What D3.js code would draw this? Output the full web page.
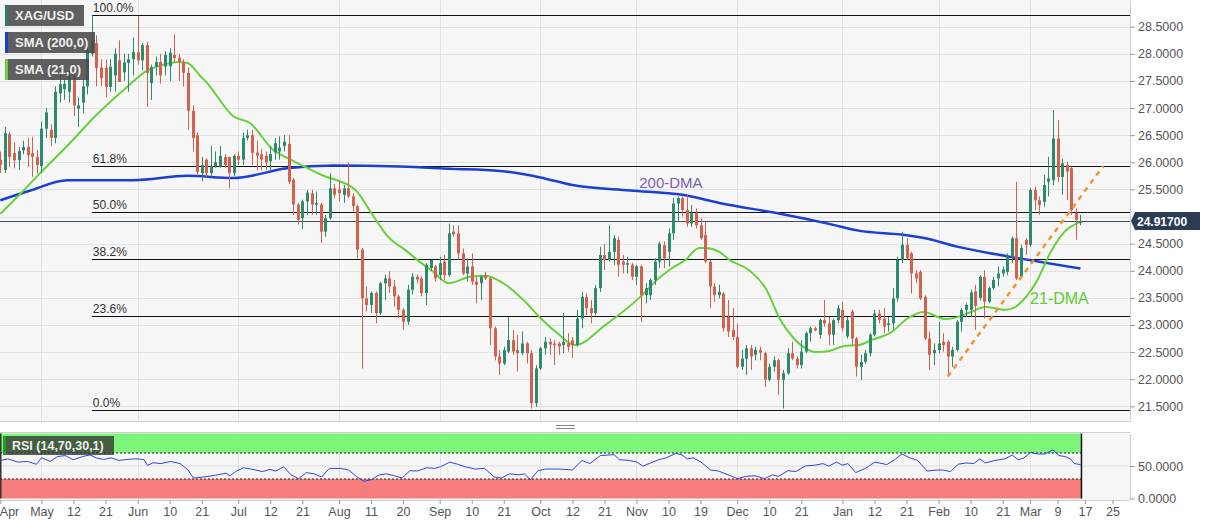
<!DOCTYPE html>
<html lang="en">
<head>
<meta charset="UTF-8">
<title>XAG/USD daily</title>
<script src="https://d3js.org/d3.v7.min.js"></script>
<style>
  body { margin: 0; background: #fff; }
  svg { display: block; font-family: "Liberation Sans", Arial, sans-serif; }
</style>
</head>
<body>
<script>
var width = 1207, height = 526;
var plotRight = 1130;
var mainBottom = 421, rsiTop = 432, rsiBottom = 500;

// daily candles, one per trading day
var opens = [
 26.05,25.86,26.52,26.17,26.04,26.22,26.28,26.17,26.10,25.93,
 26.62,26.60,26.45,27.27,27.35,27.30,27.60,26.99,27.10,27.40,
 28.00,28.20,27.75,27.74,27.39,27.60,27.88,27.66,27.83,27.90,
 28.03,27.88,28.16,27.46,27.76,27.85,27.76,27.77,27.98,27.93,
 27.85,27.65,26.95,26.50,25.80,26.05,25.80,25.93,25.92,26.10,
 26.10,25.80,26.12,26.05,26.45,26.50,26.18,26.15,26.12,26.02,
 26.18,26.20,26.30,26.34,25.68,25.22,24.97,25.28,25.43,25.22,
 25.22,24.72,24.97,25.52,25.50,25.40,25.52,25.37,25.19,24.39,
 23.49,23.37,23.59,23.22,23.77,23.86,23.71,23.53,23.28,23.06,
 23.65,23.89,23.86,23.59,24.05,24.08,23.92,24.17,23.92,24.72,
 24.69,24.32,23.95,24.08,23.80,23.77,23.92,23.86,22.94,22.42,
 22.29,22.51,22.72,22.54,22.48,22.66,22.48,21.56,22.20,22.57,
 22.69,22.66,22.66,22.63,22.66,22.72,22.63,23.12,23.52,23.31,
 23.22,23.68,24.29,24.20,24.35,24.57,24.17,24.11,24.11,23.89,
 24.08,23.55,23.55,23.83,24.17,24.47,24.35,24.69,25.24,25.34,
 25.12,24.87,25.06,24.84,24.66,24.17,23.71,23.55,23.58,23.15,
 22.91,22.78,22.23,22.38,22.57,22.45,22.54,22.48,21.99,22.23,
 22.35,21.99,22.11,22.48,22.38,22.26,22.51,22.85,22.94,22.82,
 23.09,23.03,22.82,23.09,23.28,22.79,23.25,22.75,22.23,22.32,
 22.48,22.82,23.21,23.12,23.00,23.03,23.49,24.20,24.48,24.32,
 23.95,23.98,23.52,22.75,22.48,22.54,22.69,22.69,22.42,22.54,
 23.06,23.28,23.28,23.62,23.50,23.89,23.43,23.68,23.86,23.95,
 23.98,24.26,24.60,23.89,24.57,24.48,25.49,25.30,25.27,25.64,
 25.67,26.44,25.73,25.95,25.89,25.06,24.88];
var highs = [
 26.20,26.65,26.56,26.37,26.28,26.40,26.45,26.47,26.23,26.75,
 27.00,26.70,27.40,27.65,27.55,27.70,27.70,27.20,27.55,28.30,
 28.72,28.34,27.90,27.90,27.90,28.10,28.25,28.00,28.00,28.30,
 28.70,28.20,28.22,27.80,27.95,28.00,28.05,28.10,28.36,28.00,
 27.90,27.75,27.05,26.55,26.10,26.07,26.30,26.20,26.30,26.15,
 26.10,26.15,26.20,26.55,26.60,26.60,26.40,26.25,26.20,26.30,
 26.45,26.48,26.50,26.50,25.71,25.25,25.31,25.49,25.49,25.46,
 25.25,25.03,25.80,25.60,25.65,25.58,26.00,25.43,25.22,24.42,
 23.71,23.62,23.62,23.80,23.93,23.99,23.83,23.56,23.31,23.74,
 23.96,23.93,23.90,24.14,24.20,24.11,24.26,24.29,24.87,24.84,
 24.84,24.41,24.23,24.32,23.89,23.92,23.98,23.89,22.97,22.54,
 22.60,23.15,22.91,22.82,22.88,22.69,22.54,22.26,22.60,22.78,
 22.75,22.72,22.69,23.22,22.85,22.78,23.28,23.61,23.58,23.46,
 23.74,24.44,24.50,24.84,24.66,24.63,24.29,24.26,24.14,24.11,
 24.11,23.77,23.86,24.23,24.54,24.54,24.78,25.34,25.37,25.37,
 25.40,25.21,25.15,24.97,24.91,24.20,23.77,23.74,23.61,23.46,
 23.31,23.03,22.54,22.63,22.63,22.60,22.60,22.51,22.29,22.42,
 22.38,22.17,22.57,22.69,22.42,22.72,22.88,22.97,22.97,23.12,
 23.46,23.15,23.12,23.37,23.43,23.15,23.28,22.78,22.45,22.54,
 22.85,23.28,23.28,23.31,23.15,23.68,24.26,24.72,24.60,24.35,
 24.01,24.01,23.55,22.88,22.66,23.06,22.85,22.72,22.60,23.09,
 23.31,23.40,23.65,23.74,23.92,24.01,23.71,23.89,24.08,24.08,
 24.32,24.63,25.64,24.48,24.60,25.52,25.55,25.37,25.77,26.10,
 26.96,26.78,26.07,26.01,25.92,25.15,25.03];
var lows = [
 25.80,25.80,25.91,25.89,25.86,26.15,25.91,25.73,25.79,25.80,
 26.45,26.30,26.35,27.10,27.15,27.10,26.85,26.65,26.90,27.25,
 27.95,27.40,27.40,27.20,27.30,27.30,27.48,27.50,27.30,27.60,
 27.80,27.70,27.02,27.15,27.60,27.45,27.60,27.50,27.85,27.50,
 27.40,26.60,26.20,25.75,25.65,25.73,25.73,25.90,25.90,25.90,
 25.52,25.75,25.95,25.95,26.40,25.95,25.85,25.85,25.85,25.85,
 26.05,26.05,26.20,25.60,25.03,24.85,24.77,25.03,25.03,25.03,
 24.51,24.63,24.94,25.34,25.28,25.25,25.34,25.09,24.23,22.20,
 23.25,23.22,23.03,23.19,23.46,23.59,23.34,23.13,22.91,23.00,
 23.56,23.77,23.53,23.37,24.00,23.80,23.83,23.83,23.89,24.63,
 24.20,23.92,23.80,23.74,23.40,23.46,23.83,22.63,22.35,22.08,
 22.26,22.48,22.45,22.14,22.45,22.29,21.46,21.49,22.17,22.45,
 22.45,22.26,22.45,22.48,22.51,22.39,22.60,22.94,23.18,23.03,
 23.18,23.61,24.01,24.17,24.11,23.89,23.95,23.95,23.83,23.74,
 23.06,23.40,23.46,23.74,24.05,24.05,24.08,24.57,24.90,25.00,
 24.81,24.81,24.78,24.57,24.14,23.31,23.43,23.49,22.88,22.78,
 22.72,22.20,22.17,22.08,22.17,22.35,22.35,21.86,21.96,22.14,
 21.71,21.46,22.08,22.35,22.20,22.20,22.48,22.69,22.88,22.75,
 22.97,22.63,22.63,23.03,22.88,22.75,22.63,22.05,21.99,22.29,
 22.42,22.79,23.03,22.85,22.88,22.91,23.43,24.14,24.20,23.58,
 23.77,23.46,22.72,22.17,22.26,22.48,22.51,22.05,22.23,22.51,
 22.88,23.15,23.15,22.91,23.45,23.12,23.40,23.65,23.71,23.89,
 23.92,24.14,23.83,23.86,24.29,24.44,25.12,25.03,25.18,25.37,
 25.58,25.64,25.40,25.30,25.03,24.57,24.84];
var closes = [
 25.95,26.54,26.10,26.04,26.21,26.28,26.13,26.10,25.95,26.62,
 26.92,26.45,27.30,27.44,27.45,27.60,27.05,27.05,27.40,28.07,
 28.25,27.74,27.55,27.39,27.76,28.00,27.48,27.84,27.90,28.03,
 27.88,28.16,27.65,27.76,27.85,27.60,27.98,28.02,27.92,27.85,
 27.65,26.95,26.45,25.82,25.95,25.80,25.93,26.00,26.12,25.95,
 25.80,26.12,26.05,26.45,26.50,26.17,26.12,26.05,26.00,26.15,
 26.35,26.27,26.38,25.64,25.22,24.94,25.28,25.44,25.22,25.25,
 24.72,24.97,25.52,25.40,25.43,25.52,25.37,25.19,24.39,23.49,
 23.37,23.59,23.22,23.77,23.86,23.71,23.53,23.28,23.06,23.65,
 23.89,23.84,23.59,24.11,24.20,23.86,24.14,23.92,24.69,24.67,
 24.32,23.95,24.08,23.80,23.74,23.89,23.86,22.94,22.42,22.29,
 22.54,22.72,22.51,22.48,22.66,22.48,21.56,22.20,22.57,22.69,
 22.64,22.63,22.60,22.69,22.60,22.63,23.12,23.52,23.31,23.22,
 23.68,24.29,24.20,24.35,24.60,24.11,24.11,24.14,23.89,24.08,
 23.55,23.68,23.83,24.17,24.50,24.23,24.69,25.24,25.34,25.12,
 24.87,25.06,24.84,24.60,24.17,23.71,23.55,23.61,22.94,22.88,
 22.78,22.23,22.38,22.57,22.42,22.54,22.49,21.99,22.23,22.35,
 21.99,22.11,22.48,22.38,22.26,22.51,22.85,22.94,22.90,23.09,
 23.03,22.82,23.09,23.31,22.94,23.09,22.75,22.23,22.32,22.48,
 22.82,23.21,23.09,22.97,23.03,23.49,24.20,24.48,24.23,23.95,
 23.86,23.49,22.75,22.45,22.54,22.66,22.63,22.42,22.54,23.06,
 23.28,23.37,23.60,23.35,23.89,23.43,23.68,23.83,23.95,24.02,
 24.26,24.60,23.86,24.42,24.48,25.49,25.30,25.21,25.58,25.70,
 26.44,25.73,25.98,25.83,25.12,24.94,24.917];

// moving averages (candle index, value)
var sma200Idx = [0,6.6,14.6,29.1,40.9,50.9,62.7,72.8,87.4,98.3,109.2,118,125,137.6,149,157.1,170.4,181.3,187.5,197.7,202.1,209.3,218.5,236];
var sma200Val = [25.30,25.48,25.67,25.67,25.75,25.71,25.89,25.94,25.92,25.88,25.84,25.72,25.58,25.48,25.40,25.25,25.05,24.86,24.74,24.66,24.60,24.44,24.29,24.04];
var sma21Idx = [0,4.4,8.7,14.6,21.2,27.7,31.9,36.1,38.9,40.9,43.7,45.2,50.9,54.6,59.6,62.7,70.1,77.6,81.1,84.8,88.5,92.0,94.6,97.9,102.7,106.0,109.9,114.3,118.0,121.7,125.6,132.2,139.6,144.0,146.8,149.7,152.7,154.0,157.1,159.3,163.6,167.4,170.2,173.3,176.1,178.3,181.1,184.2,187.5,190.3,194.7,198.4,201.7,206.5,209.3,212.1,215.2,217.4,219.4,221.3,223.5,226.6,229.4,232.3,236];
var sma21Val = [25.05,25.42,25.80,26.30,26.89,27.39,27.68,27.81,27.85,27.83,27.59,27.46,26.85,26.72,26.23,26.08,25.77,25.49,25.06,24.62,24.38,24.14,23.98,23.77,23.89,23.91,23.77,23.46,23.13,22.85,22.63,23.00,23.50,23.87,24.05,24.20,24.42,24.42,24.35,24.20,24.01,23.65,23.13,22.76,22.56,22.50,22.52,22.61,22.63,22.72,22.87,23.13,23.24,23.11,23.15,23.24,23.33,23.31,23.28,23.31,23.46,23.83,24.33,24.70,24.90];

// RSI(14) (candle index, value)
var rsiIdx = [0,1.7,3.8,5.9,7.9,9.0,10.9,12.5,14.2,15.9,18.0,19.6,20.9,22.6,24.2,25.9,28.4,30.1,31.4,32.2,33.4,35.1,37.2,39.3,41.0,42.2,44.3,46.8,49.3,50.2,51.4,53.1,55.2,57.3,58.9,60.2,61.9,63.5,65.2,66.9,68.6,70.2,71.9,74.4,76.1,77.8,79.4,81.1,82.8,84.4,86.1,87.8,89.5,91.1,93.2,94.9,96.2,98.2,99.9,101.6,103.7,105.8,107.9,109.5,111.2,113.3,114.5,115.8,117.5,119.1,122.1,125.0,127.1,128.8,131.1,134.1,135.3,137.4,139.1,140.4,142.1,143.8,145.5,147.6,148.9,150.1,151.4,153.1,155.2,156.9,159.0,161.1,162.8,164.9,167.0,168.7,170.0,172.1,173.8,175.9,178.0,179.7,181.0,182.7,184.0,185.2,186.9,189.0,191.1,193.7,195.4,197.0,198.7,200.4,202.5,204.7,205.9,207.6,209.3,211.0,212.7,214.0,215.2,217.3,219.5,221.1,222.4,223.7,225.1,226.6,228.3,230.0,231.3,232.6,233.8,234.7,236.0];
var rsiVal = [58.6,61,56,57,52.7,62.6,57,64.6,66,59.6,64.6,67,62.6,60,62.6,58.6,60.6,61,59.6,51,55,53.7,57,53.7,43.8,31.5,33,35.4,38.9,35,41.4,47.3,44.8,41.4,44.8,42.3,48.8,36.4,30.5,39.9,37.9,33,46.3,46.3,43.8,34,26.5,29,36.4,37.9,35,31.5,42.8,42.3,47.3,46.3,48.8,56,52.7,48.8,45.3,46.3,33,31.5,37.9,36.4,37.9,29,42.8,45.3,45.3,43.8,58.6,53.7,66,67.5,59.6,58.6,56,49.8,54.7,59.6,62.6,69.5,67,61,62.6,56,43.8,42.3,36.4,30.5,34,35,30.5,36.4,34,42.8,41.4,50.2,51.2,53.7,49.8,56,51.2,53.7,39.9,46.3,56,52.2,59.6,68.5,62.6,58.6,42.3,43.8,43.8,41.4,52.7,54.7,53.7,61,54.7,58.6,61,67,59.6,62.6,71,68.5,68.5,75,66,64.6,61,53.7,52.2];

// Fibonacci retracement from the May high to the September low
var fibHigh = 28.72, fibLow = 21.44, fibStartIdx = 20;
var fibRatios = [1, 0.618, 0.5, 0.382, 0.236, 0];
var fibLabels = ["100.0%", "61.8%", "50.0%", "38.2%", "23.6%", "0.0%"];

// ascending support line
var trendIdx = [207, 241];
var trendVal = [22.05, 25.93];

var lastPrice = 24.917;
var priceTicks = [21.5, 22, 22.5, 23, 23.5, 24, 24.5, 25, 25.5, 26, 26.5, 27, 27.5, 28, 28.5];
var rsiTicks = [0, 50];
var tickIdx = [0, 9, 16, 23, 30, 37, 44, 52, 59, 66, 74, 81, 88, 96, 103, 110, 118, 125, 132, 139, 146, 153, 161, 168, 175, 184, 191, 198, 205, 212, 219, 225, 231, 237, 243];
var tickLabels = ["Apr", "May", "12", "21", "Jun", "10", "21", "Jul", "12", "21", "Aug", "11", "20", "Sep", "10", "21", "Oct", "12", "21", "Nov", "10", "19", "Dec", "10", "21", "Jan", "12", "21", "Feb", "10", "21", "Mar", "9", "17", "25"];
var monthIdx = [9, 30, 52, 74, 96, 118, 139, 161, 184, 205, 225];

var upColor = "#2c8a6d", downColor = "#d4614b";

var svg = d3.select("body").append("svg")
    .attr("width", width)
    .attr("height", height);

var x = d3.scaleLinear().domain([0, 247]).range([0.3, 1130.8]);
var y = d3.scaleLinear().domain([21.23, 28.992]).range([mainBottom, 0]);
var yr = d3.scaleLinear().domain([0, 100]).range([498.5, 433.5]);

svg.append("clipPath").attr("id", "mainclip")
  .append("rect").attr("x", 0).attr("y", 0).attr("width", plotRight).attr("height", mainBottom);

// panel backgrounds
svg.append("rect").attr("x", 0).attr("y", 0).attr("width", plotRight).attr("height", mainBottom).attr("fill", "#f6f6f6");
svg.append("rect").attr("x", 0).attr("y", rsiTop).attr("width", plotRight).attr("height", rsiBottom - rsiTop).attr("fill", "#f6f6f6");

// grid
svg.append("g").selectAll("line").data(priceTicks).enter().append("line")
  .attr("x1", 0).attr("x2", plotRight)
  .attr("y1", function(d) { return Math.round(y(d)) + 0.5; })
  .attr("y2", function(d) { return Math.round(y(d)) + 0.5; })
  .attr("stroke", "#e2e2e2");
svg.append("g").selectAll("line").data(monthIdx).enter().append("line")
  .attr("x1", function(d) { return Math.round(x(d)) + 0.5; })
  .attr("x2", function(d) { return Math.round(x(d)) + 0.5; })
  .attr("y1", 0).attr("y2", mainBottom)
  .attr("stroke", "#e2e2e2");
svg.append("g").selectAll("line").data(monthIdx).enter().append("line")
  .attr("x1", function(d) { return Math.round(x(d)) + 0.5; })
  .attr("x2", function(d) { return Math.round(x(d)) + 0.5; })
  .attr("y1", rsiTop).attr("y2", rsiBottom)
  .attr("stroke", "#e2e2e2");

var main = svg.append("g").attr("clip-path", "url(#mainclip)");

// current price line
main.append("line")
  .attr("x1", 0).attr("x2", plotRight)
  .attr("y1", Math.round(y(lastPrice)) + 0.5).attr("y2", Math.round(y(lastPrice)) + 0.5)
  .attr("stroke", "#3b4d66").attr("stroke-width", 1);

// fibonacci levels
var fib = main.append("g");
fib.selectAll("line").data(fibRatios).enter().append("line")
  .attr("x1", x(fibStartIdx)).attr("x2", plotRight)
  .attr("y1", function(d) { return Math.round(y(fibLow + d * (fibHigh - fibLow))) + 0.5; })
  .attr("y2", function(d) { return Math.round(y(fibLow + d * (fibHigh - fibLow))) + 0.5; })
  .attr("stroke", "#111").attr("stroke-width", 1);
fib.selectAll("text").data(fibRatios).enter().append("text")
  .attr("x", x(fibStartIdx) + 1)
  .attr("y", function(d) { return y(fibLow + d * (fibHigh - fibLow)) - 3; })
  .attr("font-size", 12).attr("fill", "#333")
  .text(function(d, i) { return fibLabels[i]; });

// moving averages
var lineFn = function(idx) {
  return d3.line()
    .x(function(d, i) { return x(idx[i]); })
    .y(function(d) { return y(d); })
    .curve(d3.curveMonotoneX);
};
main.append("path").datum(sma200Val)
  .attr("d", lineFn(sma200Idx))
  .attr("fill", "none").attr("stroke", "#1b3fd4").attr("stroke-width", 2.5);
main.append("path").datum(sma21Val)
  .attr("d", lineFn(sma21Idx))
  .attr("fill", "none").attr("stroke", "#66d13a").attr("stroke-width", 2);

// candles
var candles = main.append("g").selectAll("g").data(closes).enter().append("g");
candles.append("line")
  .attr("x1", function(d, i) { return Math.round(x(i)) + 0.5; })
  .attr("x2", function(d, i) { return Math.round(x(i)) + 0.5; })
  .attr("y1", function(d, i) { return y(highs[i]); })
  .attr("y2", function(d, i) { return y(lows[i]); })
  .attr("stroke", function(d, i) { return d >= opens[i] ? upColor : downColor; })
  .attr("stroke-width", 1);
candles.append("rect")
  .attr("x", function(d, i) { return Math.round(x(i)) - 1; })
  .attr("width", 3)
  .attr("y", function(d, i) { return y(Math.max(d, opens[i])); })
  .attr("height", function(d, i) { return Math.max(1, Math.abs(y(d) - y(opens[i]))); })
  .attr("fill", function(d, i) { return d >= opens[i] ? upColor : downColor; });

// trend line
main.append("path").datum(trendVal)
  .attr("d", d3.line().x(function(d, i) { return x(trendIdx[i]); }).y(function(d) { return y(d); }))
  .attr("fill", "none").attr("stroke", "#f39233").attr("stroke-width", 2.5)
  .attr("stroke-dasharray", "5,5");

// annotations
main.append("text").attr("x", x(139.6)).attr("y", y(25.53))
  .attr("font-size", 15).attr("fill", "#7a5db3").text("200-DMA");
main.append("text").attr("x", x(225)).attr("y", y(23.39))
  .attr("font-size", 16).attr("fill", "#62cc35").text("21-DMA");

// legend boxes
var legendNames = ["XAG/USD", "SMA (200,0)", "SMA (21,0)"];
var legendColors = ["#2c7a68", "#1b3fd4", "#66d13a"];
var legendW = [79, 90, 84];
var legend = svg.append("g").selectAll("g").data(legendNames).enter().append("g")
  .attr("transform", function(d, i) { return "translate(5," + (5 + i * 27) + ")"; });
legend.append("rect").attr("width", function(d, i) { return legendW[i]; }).attr("height", 21)
  .attr("fill", "#4a4a4a").attr("fill-opacity", 0.88);
legend.append("rect").attr("width", 3).attr("height", 21)
  .attr("fill", function(d, i) { return legendColors[i]; });
legend.append("text").attr("x", 10).attr("y", 15)
  .attr("font-size", 13).attr("font-weight", "bold").attr("fill", "#eeeeee")
  .text(function(d) { return d; });

// panel borders
svg.append("line").attr("x1", 0).attr("x2", plotRight).attr("y1", mainBottom + 0.5).attr("y2", mainBottom + 0.5).attr("stroke", "#cfcfcf");
svg.append("line").attr("x1", 0).attr("x2", plotRight).attr("y1", rsiTop + 0.5).attr("y2", rsiTop + 0.5).attr("stroke", "#cfcfcf");
svg.append("line").attr("x1", 556).attr("x2", 575).attr("y1", 425.5).attr("y2", 425.5).attr("stroke", "#888");
svg.append("line").attr("x1", 556).attr("x2", 575).attr("y1", 428.5).attr("y2", 428.5).attr("stroke", "#888");

// y axis (price); the label hidden under the last-price tag is left out
var labelTicks = priceTicks.filter(function(d) { return Math.abs(d - lastPrice) > 0.15; });
var yAxis = svg.append("g").attr("transform", "translate(" + plotRight + ",0)")
  .call(d3.axisRight(y).tickValues(labelTicks).tickFormat(d3.format(".4f")).tickSize(5).tickSizeOuter(0));
yAxis.select(".domain").attr("stroke", "#cfcfcf");
yAxis.selectAll(".tick line").attr("stroke", "#999");
yAxis.selectAll("text").attr("font-size", 12.5).attr("fill", "#555").attr("font-family", "Liberation Sans, Arial, sans-serif");

// last price tag
var tagY = y(lastPrice);
svg.append("path")
  .attr("d", "M" + (plotRight + 1) + "," + tagY + "L" + (plotRight + 5) + "," + (tagY - 9) + "L1200," + (tagY - 9) + "L1200," + (tagY + 9) + "L" + (plotRight + 5) + "," + (tagY + 9) + "Z")
  .attr("fill", "#2b3d56");
svg.append("text").attr("x", plotRight + 7).attr("y", tagY + 4.5)
  .attr("font-size", 12).attr("font-weight", "bold").attr("fill", "#fff").text(d3.format(".5f")(lastPrice));

// RSI panel
var rsiEnd = x(closes.length - 1) + 1;
svg.append("rect").attr("x", 0).attr("y", yr(100)).attr("width", rsiEnd).attr("height", yr(70) - yr(100)).attr("fill", "#7ff47b");
svg.append("rect").attr("x", 0).attr("y", yr(30)).attr("width", rsiEnd).attr("height", yr(0) - yr(30)).attr("fill", "#f77d7d");
svg.append("line").attr("x1", 0).attr("x2", plotRight).attr("y1", yr(50)).attr("y2", yr(50)).attr("stroke", "#e0e0e0");
svg.append("g").selectAll("line").data([70, 30]).enter().append("line")
  .attr("x1", 0).attr("x2", rsiEnd)
  .attr("y1", function(d) { return yr(d); }).attr("y2", function(d) { return yr(d); })
  .attr("stroke", "#222").attr("stroke-width", 1).attr("stroke-dasharray", "2,2");
svg.append("line").attr("x1", rsiEnd).attr("x2", rsiEnd).attr("y1", yr(100)).attr("y2", yr(0)).attr("stroke", "#111").attr("stroke-width", 1.5);
svg.append("line").attr("x1", 0.75).attr("x2", 0.75).attr("y1", yr(100)).attr("y2", yr(0)).attr("stroke", "#333").attr("stroke-width", 1.5);

svg.append("path").datum(rsiVal)
  .attr("d", d3.line().x(function(d, i) { return x(rsiIdx[i]); }).y(function(d) { return yr(d); }))
  .attr("fill", "none").attr("stroke", "#2f45dc").attr("stroke-width", 1);

svg.append("rect").attr("x", 3).attr("y", 436).attr("width", 111).attr("height", 19)
  .attr("fill", "#333").attr("fill-opacity", 0.78);
svg.append("rect").attr("x", 3).attr("y", 436).attr("width", 3).attr("height", 19).attr("fill", "#1f9d2a");
svg.append("text").attr("x", 12).attr("y", 450)
  .attr("font-size", 12.5).attr("font-weight", "bold").attr("fill", "#eeeeee").text("RSI (14,70,30,1)");

var rAxis = svg.append("g").attr("transform", "translate(" + plotRight + ",0)")
  .call(d3.axisRight(yr).tickValues(rsiTicks).tickFormat(d3.format(".4f")).tickSize(5).tickSizeOuter(0));
rAxis.select(".domain").attr("stroke", "#cfcfcf");
rAxis.selectAll(".tick line").attr("stroke", "#999");
rAxis.selectAll("text").attr("font-size", 12.5).attr("fill", "#555").attr("font-family", "Liberation Sans, Arial, sans-serif");

// x axis
var xAxis = svg.append("g").attr("transform", "translate(0," + rsiBottom + ")")
  .call(d3.axisBottom(x).tickValues(tickIdx)
    .tickFormat(function(d, i) { return tickLabels[i]; })
    .tickSize(4).tickSizeOuter(0));
xAxis.select(".domain").attr("stroke", "#cfcfcf").attr("d", "M0,0.5H" + plotRight);
xAxis.selectAll(".tick line").attr("stroke", "#999");
xAxis.selectAll("text").attr("font-size", 12.5).attr("fill", "#555").attr("font-family", "Liberation Sans, Arial, sans-serif");
xAxis.selectAll("text").filter(function(d, i) { return i === 0; }).attr("text-anchor", "start").attr("x", -1);
</script>
</body>
</html>
